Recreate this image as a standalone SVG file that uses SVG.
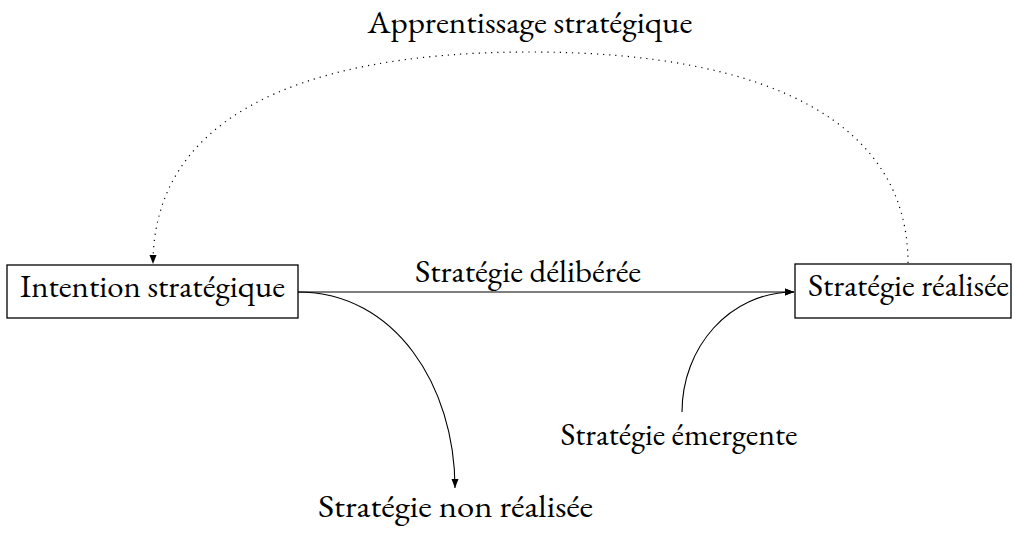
<svg xmlns="http://www.w3.org/2000/svg" width="1014" height="534" viewBox="0 0 1014 534">
<style>
text{font-family:"EB Garamond","Liberation Serif","Times New Roman",serif;font-size:31px;fill:#000}
.box{fill:#fff;stroke:#000;stroke-width:1.3}
.edge{fill:none;stroke:#000;stroke-width:1.1}
.dot{fill:none;stroke:#000;stroke-width:1.2;stroke-dasharray:1.2 5}
</style>
<defs>
<marker id="ah" markerUnits="userSpaceOnUse" markerWidth="10" markerHeight="10" viewBox="0 0 10 10" refX="9" refY="5" orient="auto">
<path d="M0,1.5 L9,5 L0,8.5 Z" fill="#000"/>
</marker>
</defs>
<rect width="1014" height="534" fill="#fff"/>
<g id="connectors">
<path class="dot" d="M908,263 C908,126 775,52 530,52 C285,52 153,126 153,264" marker-end="url(#ah)"/>
<path class="edge" d="M298,292 L794,292" marker-end="url(#ah)"/>
<path class="edge" d="M298,292 C395,292 455,386 455,488" marker-end="url(#ah)"/>
<path class="edge" d="M682,412 C682,348 729,292 794,292" marker-end="url(#ah)"/>
<text x="530" y="33" text-anchor="middle" textLength="325" lengthAdjust="spacingAndGlyphs">Apprentissage stratégique</text>
<text x="528" y="282" text-anchor="middle" textLength="226" lengthAdjust="spacingAndGlyphs">Stratégie délibérée</text>
</g>
<g id="intention">
<rect class="box" x="7" y="265" width="291" height="53"/>
<text x="152.5" y="297" text-anchor="middle" textLength="265" lengthAdjust="spacingAndGlyphs">Intention stratégique</text>
</g>
<g id="realisee">
<rect class="box" x="795" y="264" width="216" height="54"/>
<text x="908.5" y="296" text-anchor="middle" textLength="201" lengthAdjust="spacingAndGlyphs">Stratégie réalisée</text>
</g>
<g id="nonrealisee">
<text x="455.5" y="517" text-anchor="middle" textLength="275" lengthAdjust="spacingAndGlyphs">Stratégie non réalisée</text>
</g>
<g id="emergente">
<text x="679" y="445" text-anchor="middle" textLength="237" lengthAdjust="spacingAndGlyphs">Stratégie émergente</text>
</g>
</svg>
